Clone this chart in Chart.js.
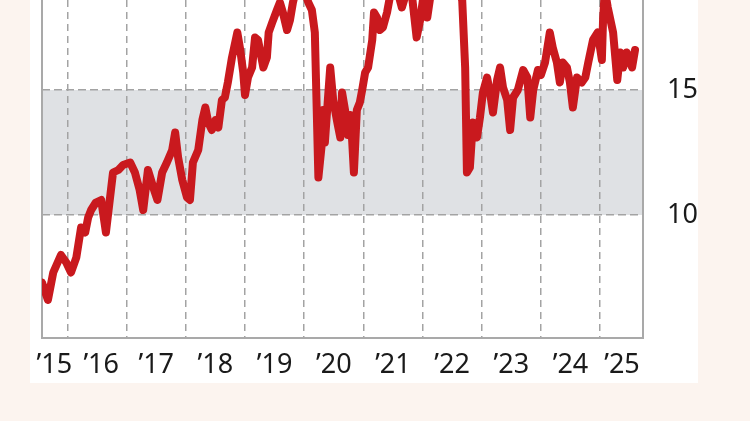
<!DOCTYPE html>
<html>
<head>
<meta charset="utf-8">
<script src="https://cdn.jsdelivr.net/npm/chart.js@4/dist/chart.umd.min.js"></script>
<style>
    html, body { margin: 0; padding: 0; background: #fcf4ef; }
    body { width: 750px; height: 421px; position: relative; overflow: hidden; }
    #panel { position: absolute; left: 30px; top: 0; width: 668px; height: 383px; background: #fff; }
</style>
</head>
<body>
<div id="panel"><canvas id="chart" width="668" height="383"></canvas></div>
<script>
// 1. data (x = decimal year)
const dates = [
    2015.57, 2015.67, 2015.76, 2015.89, 2015.98, 2016.06, 2016.15, 2016.23, 2016.30, 2016.35,
    2016.40, 2016.48, 2016.57, 2016.65, 2016.77, 2016.86, 2016.94, 2017.06, 2017.14, 2017.22,
    2017.28, 2017.36, 2017.45, 2017.52, 2017.60, 2017.68, 2017.77, 2017.82, 2017.87, 2017.94,
    2018.02, 2018.07, 2018.12, 2018.21, 2018.28, 2018.33, 2018.38, 2018.44, 2018.50, 2018.55,
    2018.61, 2018.66, 2018.71, 2018.78, 2018.87, 2018.92, 2018.97, 2019.00, 2019.05, 2019.12,
    2019.17, 2019.22, 2019.31, 2019.37, 2019.40, 2019.46, 2019.54, 2019.59, 2019.64, 2019.71,
    2019.76, 2019.81, 2019.88, 2019.96, 2020.07, 2020.13, 2020.18, 2020.24, 2020.30, 2020.32,
    2020.35, 2020.40, 2020.44, 2020.49, 2020.56, 2020.61, 2020.64, 2020.69, 2020.74, 2020.78,
    2020.81, 2020.84, 2020.89, 2020.94, 2020.98, 2021.03, 2021.08, 2021.15, 2021.18, 2021.23,
    2021.28, 2021.33, 2021.40, 2021.47, 2021.55, 2021.65, 2021.74, 2021.82, 2021.90, 2021.96,
    2022.03, 2022.08, 2022.16, 2022.30, 2022.46, 2022.60, 2022.67, 2022.72, 2022.75, 2022.80,
    2022.85, 2022.92, 2022.97, 2023.02, 2023.09, 2023.14, 2023.19, 2023.26, 2023.31, 2023.36,
    2023.43, 2023.48, 2023.53, 2023.61, 2023.70, 2023.77, 2023.82, 2023.87, 2023.95, 2024.00,
    2024.07, 2024.15, 2024.20, 2024.27, 2024.32, 2024.37, 2024.44, 2024.49, 2024.54, 2024.61,
    2024.69, 2024.75, 2024.80, 2024.88, 2024.96, 2025.03, 2025.05, 2025.08, 2025.13, 2025.22,
    2025.29, 2025.34, 2025.39, 2025.45, 2025.54, 2025.59
];
const values = [
    7.3, 6.6, 7.7, 8.4, 8.1, 7.7, 8.3, 9.5, 9.3, 9.9,
    10.2, 10.5, 10.6, 9.3, 11.7, 11.8, 12.0, 12.1, 11.7, 11.0,
    10.2, 11.8, 11.1, 10.6, 11.7, 12.1, 12.6, 13.3, 12.3, 11.4,
    10.7, 10.6, 12.1, 12.6, 13.8, 14.3, 13.7, 13.4, 13.8, 13.5,
    14.6, 14.7, 15.3, 16.3, 17.3, 16.6, 15.7, 14.8, 15.5, 15.9,
    17.1, 17.0, 15.9, 16.3, 17.3, 17.7, 18.2, 18.5, 18.1, 17.4,
    17.8, 18.5, 19.2, 19.3, 18.5, 18.2, 17.3, 11.5, 12.9, 14.2,
    12.9, 14.6, 15.9, 14.6, 13.7, 13.1, 14.9, 14.2, 13.2, 14.0,
    13.0, 11.7, 14.2, 14.5, 15.0, 15.7, 15.9, 17.0, 18.1, 17.9,
    17.4, 17.5, 18.1, 19.0, 19.2, 18.3, 19.0, 18.8, 17.1, 17.8,
    19.0, 17.9, 19.2, 19.5, 19.3, 19.0, 18.6, 15.9, 11.7, 11.9,
    13.7, 13.1, 13.9, 14.9, 15.5, 14.9, 14.1, 15.4, 15.9, 15.1,
    14.6, 13.4, 14.7, 15.0, 15.8, 15.5, 13.9, 15.0, 15.8, 15.6,
    16.1, 17.3, 16.7, 16.1, 15.3, 16.1, 15.9, 15.3, 14.3, 15.5,
    15.3, 15.5, 16.1, 17.0, 17.3, 16.2, 17.8, 19.0, 18.3, 17.3,
    15.4, 16.5, 15.9, 16.5, 15.9, 16.6
];

// axis labels and grid positions
const yearLabels = ['’15', '’16', '’17', '’18', '’19', '’20', '’21', '’22', '’23', '’24', '’25'];
const yearLabelPos = [2015.78, 2016.57, 2017.5, 2018.5, 2019.5, 2020.5, 2021.5, 2022.5, 2023.5, 2024.5, 2025.37];
const yearLines = [2016, 2017, 2018, 2019, 2020, 2021, 2022, 2023, 2024, 2025];
const yTicks = [10, 15];
const bandLow = 10, bandHigh = 15;

const X_MIN = 2015.57, X_MAX = 2025.725;
const Y_MIN = 5.08, Y_MAX = 18.6;
const FONT = { family: '"Noto Sans", sans-serif', size: 27 };

// 2. grey band between 10 and 15
const bandPlugin = {
    id: 'band',
    beforeDraw(chart) {
        const { ctx, chartArea, scales } = chart;
        const top = scales.y.getPixelForValue(bandHigh);
        const bottom = scales.y.getPixelForValue(bandLow);
        ctx.save();
        ctx.fillStyle = '#dfe1e4';
        ctx.fillRect(chartArea.left, top, chartArea.right - chartArea.left, bottom - top);
        ctx.restore();
    }
};

function noPad(scale) {
    scale.paddingTop = 0; scale.paddingBottom = 0;
    scale.paddingLeft = 0; scale.paddingRight = 0;
}

// 3. chart
new Chart(document.getElementById('chart').getContext('2d'), {
    type: 'line',
    data: {
        datasets: [{
            data: dates.map((d, i) => ({ x: d, y: values[i] })),
            borderColor: '#c9191e',
            borderWidth: 8,
            borderJoinStyle: 'round',
            borderCapStyle: 'round',
            pointRadius: 0,
            tension: 0,
            fill: false
        }]
    },
    plugins: [bandPlugin],
    options: {
        responsive: false,
        animation: false,
        layout: { padding: { left: 12, right: 0, top: 0, bottom: 0 } },
        plugins: { legend: { display: false }, tooltip: { enabled: false } },
        scales: {
            x: {
                type: 'linear', position: 'bottom', min: X_MIN, max: X_MAX,
                afterBuildTicks: (s) => { s.ticks = yearLabelPos.map(v => ({ value: v })); },
                afterFit: (s) => { s.height = 45; noPad(s); },
                ticks: {
                    autoSkip: false, maxRotation: 0, padding: 3,
                    color: '#1a1a1a', font: FONT,
                    callback: (v, i) => yearLabels[i]
                },
                grid: { display: false },
                border: { display: true, color: '#a9a9a9', width: 2 }
            },
            x2: {
                type: 'linear', position: 'bottom', min: X_MIN, max: X_MAX,
                afterBuildTicks: (s) => { s.ticks = yearLines.map(v => ({ value: v })); },
                afterFit: (s) => { s.height = 0; noPad(s); },
                ticks: { display: false },
                grid: { drawTicks: false, color: '#a3a3a3', lineWidth: 1.5 },
                border: { display: false, dash: [7, 5] }
            },
            y: {
                position: 'right', min: Y_MIN, max: Y_MAX,
                afterBuildTicks: (s) => { s.ticks = yTicks.map(v => ({ value: v })); },
                afterFit: (s) => { s.width = 55; noPad(s); },
                ticks: { padding: 24, color: '#1a1a1a', font: FONT },
                grid: { drawTicks: false, color: '#a3a3a3', lineWidth: 1.5 },
                border: { display: true, color: '#a9a9a9', width: 2, dash: [8, 4] }
            },
            yLeft: {
                position: 'left', min: 0, max: 1,
                afterFit: (s) => { s.width = 0; noPad(s); },
                ticks: { display: false },
                grid: { display: false },
                border: { display: true, color: '#a9a9a9', width: 2 }
            }
        }
    }
});
</script>
</body>
</html>
